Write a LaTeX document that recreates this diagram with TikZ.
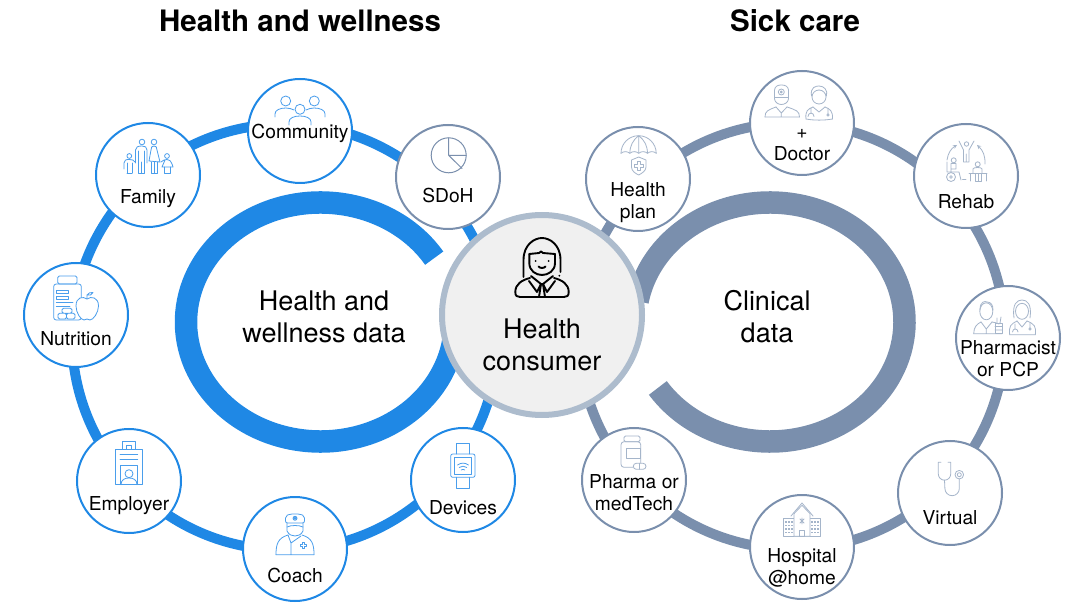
\documentclass[tikz,border=0pt]{standalone}
\usepackage{fontspec}
\setmainfont{TeX Gyre Heros}
\definecolor{wellblue}{HTML}{1F88E5}
\definecolor{sickgrey}{HTML}{7A8FAD}
\definecolor{bluelight}{HTML}{4A9EEC}
\definecolor{greylight}{HTML}{A5B5CA}
\definecolor{rimgrey}{HTML}{ADBCCD}
\definecolor{coregrey}{HTML}{F0F0F0}
\tikzset{
  bluecirc/.style={circle, draw=wellblue, fill=white, line width=2pt, minimum size=104pt, inner sep=0pt},
  greycirc/.style={circle, draw=sickgrey, fill=white, line width=2pt, minimum size=104pt, inner sep=0pt},
  lab/.style={anchor=base, align=center, inner sep=0pt, font=\fontsize{19.2}{22}\selectfont},
  biglab/.style={anchor=base, align=center, inner sep=0pt, font=\fontsize{27}{32}\selectfont},
  headlab/.style={anchor=base, inner sep=0pt, font=\fontsize{29.5}{32}\selectfont\bfseries},
  iconblue/.style={color=bluelight, line width=0.8pt, line join=round, line cap=round},
  icongrey/.style={color=greylight, line width=0.8pt, line join=round, line cap=round}
}
\begin{document}
\begin{tikzpicture}[x=1pt, y=1pt]
    \useasboundingbox (0,0) rectangle (1076,603);

    % rings
    \coordinate (ringleft) at (285,266);
    \coordinate (ringright) at (792,267);
    \coordinate (dataleft) at (320.5,281);
    \coordinate (dataright) at (770,281);
    \draw[wellblue, line width=10pt] (ringleft) circle (213);
    \draw[sickgrey, line width=10pt] (ringright) circle (213);
    \draw[wellblue, line width=22.5pt] (dataleft) ++(32.3:134.5 and 119.5) arc (32.3:355:134.5 and 119.5);
    \draw[sickgrey, line width=22.5pt] (dataright) ++(213.5:134.5 and 119.5) arc (213.5:530:134.5 and 119.5);

    % centre
    \node[circle, draw=rimgrey, fill=coregrey, line width=6pt, minimum size=200pt, inner sep=0pt] (consumer) at (542,288) {};

    % circles
    \node[bluecirc] (community) at (300,472) {};
    \node[bluecirc] (family) at (148,428) {};
    \node[bluecirc] (nutrition) at (76,288) {};
    \node[greycirc] (sdoh) at (448,426) {};
    \node[bluecirc] (employer) at (129,122) {};
    \node[bluecirc] (coach) at (295,54) {};
    \node[bluecirc] (devices) at (463,123) {};
    \node[greycirc] (healthplan) at (638,424) {};
    \node[greycirc] (doctor) at (802,480) {};
    \node[greycirc] (rehab) at (966,427) {};
    \node[greycirc] (pharmacist) at (1008,265) {};
    \node[greycirc] (virtual) at (950,110) {};
    \node[greycirc] (hospital) at (802,56) {};
    \node[greycirc] (pharma) at (634,123) {};

    % texts
    \node[headlab] (headleft) at (300,571) {Health and wellness};
    \node[headlab] (headright) at (795,571) {Sick care};
    \node[biglab] (datalabelleft) at (324,260.3) {Health and\\wellness data};
    \node[biglab] (datalabelright) at (767,260.3) {Clinical\\data};
    \node[biglab] (consumerlab) at (542,232.5) {Health\\consumer};
    \node[lab] (communitylab) at (300,464) {Community};
    \node[lab] (familylab) at (148,399.3) {Family};
    \node[lab] (nutritionlab) at (76,257) {Nutrition};
    \node[lab] (sdohlab) at (448,400.3) {SDoH};
    \node[lab] (employerlab) at (129,93) {Employer};
    \node[lab] (coachlab) at (295,21) {Coach};
    \node[lab] (deviceslab) at (463,89) {Devices};
    \node[lab] (healthplanlab) at (638,384) {Health\\plan};
    \node[lab] (doctorlab) at (802,442) {+\\Doctor};
    \node[lab] (rehablab) at (966,394.3) {Rehab};
    \node[lab] (pharmacistlab) at (1008,226) {Pharmacist\\or PCP};
    \node[lab] (virtuallab) at (950,79) {Virtual};
    \node[lab] (hospitallab) at (802,19) {Hospital\\@home};
    \node[lab] (pharmalab) at (634,92.3) {Pharma or\\medTech};

    % community
    \begin{scope}[shift={(community.center)}, iconblue]
        \draw (-14.3,30) circle (5) (14.3,30) circle (5) (0,21.7) circle (5);
        \draw (-25,14) -- (-25,17) .. controls (-25,21) and (-20,23) .. (-14,23) .. controls (-11,23) and (-8,22) .. (-6,21);
        \draw (25,14) -- (25,17) .. controls (25,21) and (20,23) .. (14,23) .. controls (11,23) and (8,22) .. (6,21);
        \draw (-11,6) -- (-11,9) .. controls (-11,13) and (-6,15) .. (0,15) .. controls (6,15) and (11,13) .. (11,9) -- (11,6);
    \end{scope}

    % family
    \begin{scope}[shift={(family.center)}, iconblue]
        \draw (-6,33) circle (2.8) (6,33) circle (2.8) (-18.7,19) circle (2.4) (19,19) circle (2.4);
        \draw (-12.5,12) -- (-12.5,25) .. controls (-12.5,28) and (-10,29) .. (-6,29) .. controls (-3,29) and (-1,28) .. (-1,25) -- (-1,12);
        \draw (-9.5,2) -- (-9.5,24) (-3.5,2) -- (-3.5,24) (-6.5,2) -- (-6.5,13) (-9.5,2) -- (-3.5,2);
        \draw (1,14) -- (3,25) .. controls (3,28) and (4,29) .. (6,29) .. controls (8,29) and (9,28) .. (9,25) -- (12,13) -- cycle;
        \draw (3,13) -- (3,2) -- (9,2) -- (9,13) (6,2) -- (6,13);
        \draw (-24,6) -- (-24,12) .. controls (-24,15) and (-22,15.5) .. (-18.7,15.5) .. controls (-16,15.5) and (-14,15) .. (-13,13);
        \draw (-21,2) -- (-21,12) (-16,2) -- (-16,12) (-21,2) -- (-16,2);
        \draw (13,13) .. controls (15,15) and (17,15.5) .. (19,15.5) .. controls (21,15.5) and (23,15) .. (25,8) -- (14,8) -- (17,15);
        \draw (16,8) -- (16,2) -- (22,2) -- (22,8);
    \end{scope}

    % nutrition
    \begin{scope}[shift={(nutrition.center)}, iconblue]
        \draw[rounded corners=1.5] (-18.3,31) rectangle (1,39);
        \draw[rounded corners=2.5] (-22.3,-5) rectangle (5.3,31);
        \draw (-19.7,21.7) rectangle (-7.3,25) (-19.7,15.7) rectangle (-7.3,19);
        \draw (-19.7,12.3) -- (-3,12.3) (-19.7,8.5) -- (-6,8.5);
        \draw[rounded corners=1.5] (-14,1.7) rectangle (-4,6.7) (-18,-4) rectangle (-9.5,1.7) (-9.5,-4) rectangle (-1,1.7);
        \draw[fill=white] (11,16) .. controls (15,19) and (22.5,18) .. (22.5,9) .. controls (22.5,2) and (17,-5) .. (14,-5) .. controls (12.5,-5) and (12,-4) .. (11,-4) .. controls (10,-4) and (9.5,-5) .. (8,-5) .. controls (5,-5) and (0,2) .. (0,9) .. controls (0,18) and (7,19) .. (11,16);
        \draw (11,16) -- (11,20) .. controls (12,22) and (15,23) .. (17,22.5) .. controls (16,20) and (13,19) .. (11,20);
    \end{scope}

    % employer
    \begin{scope}[shift={(employer.center)}, iconblue]
        \draw (-14,-3.7) rectangle (13.7,32);
        \draw (-6.7,32) rectangle (6.7,40) (-3,32) rectangle (2,36);
        \draw (-9,26.7) -- (8.7,26.7) (-9,21.3) -- (8.7,21.3);
        \draw (-9,-3.7) rectangle (8.7,15.7);
        \draw (0,7.3) circle (4);
        \draw (-8,-3.7) .. controls (-8,1.5) and (-4,3) .. (0,3) .. controls (4,3) and (8,1.5) .. (8,-3.7);
    \end{scope}

    % coach
    \begin{scope}[shift={(coach.center)}, iconblue]
        \draw[rounded corners=2] (-9.5,26) -- (-9.5,33) -- (-5,35) -- (5,35) -- (9.5,33) -- (9.5,26) -- cycle;
        \draw (0,30.7) circle (2) (0,30.7) circle (0.8);
        \draw (-8,26) -- (-8,18) .. controls (-6,14) and (-3,13) .. (0,13) .. controls (3,13) and (6,14) .. (8,18) -- (8,26);
        \draw (-8,22) .. controls (-4,24) and (4,24) .. (8,22);
        \draw (-19,-5.7) .. controls (-19,5) and (-17,11) .. (-7,14) (19,-5.7) .. controls (19,5) and (17,11) .. (7,14);
        \draw (-19,-5.7) -- (19,-5.7) (-4,-5.7) -- (-4,6) -- (6,13) (-7,14) -- (-4,6);
        \draw (7,6.5) -- (9.6,6.5) -- (9.6,4.8) -- (11.3,4.8) -- (11.3,2.4) -- (9.6,2.4) -- (9.6,0.7) -- (7,0.7) -- (7,2.4) -- (5.3,2.4) -- (5.3,4.8) -- (7,4.8) -- cycle;
    \end{scope}

    % sdoh
    \begin{scope}[shift={(sdoh.center)}, iconblue, color=sickgrey, line width=1pt]
        \draw (0.7,21.7) circle (17.5);
        \draw (0.7,39.2) -- (0.7,21.7) -- (18.2,21.7) (0.7,21.7) -- (14,8.5);
    \end{scope}

    % devices
    \begin{scope}[shift={(devices.center)}, iconblue]
        \draw (-7,26) -- (-7,37) -- (6,37) -- (6,26) (-7,2.7) -- (-7,-8) -- (6,-8) -- (6,2.7);
        \draw[rounded corners=2] (-12.3,2.7) rectangle (12,26);
        \draw (-9,6) rectangle (8.7,22.7);
        \draw (-5.5,15) .. controls (-2,17.5) and (2,17.5) .. (5.5,15);
        \draw (-3.8,12.5) .. controls (-1.5,14.2) and (1.5,14.2) .. (3.8,12.5);
        \draw (-1.8,10) .. controls (-0.7,10.8) and (0.7,10.8) .. (1.8,10);
    \end{scope}

    % pharma
    \begin{scope}[shift={(pharma.center)}, icongrey]
        \draw[rounded corners=1.5] (-10,38.3) rectangle (6,44);
        \draw[rounded corners=3] (6.7,14) -- (6.7,38.3) -- (-13,38.3) -- (-13,12.7) -- (-1,12.7);
        \draw (-8,21.7) rectangle (6.7,31.7);
        \draw[rounded corners=3, fill=white] (-0.7,10.7) rectangle (12,16.7);
        \draw (5.6,10.7) -- (5.6,16.7);
    \end{scope}

    % health plan
    \begin{scope}[shift={(healthplan.center)}, icongrey]
        \draw (-17,25.7) arc (180:0:17.6);
        \draw (-17,25.7) to[bend left=40] (-8.2,25.7) to[bend left=40] (0.7,25.7) to[bend left=40] (9.5,25.7) to[bend left=40] (18.3,25.7);
        \draw (0.7,43.3) to[bend right=25] (-8.2,25.7) (0.7,43.3) -- (0.7,25.7) (0.7,43.3) to[bend left=25] (9.5,25.7);
        \draw (0.7,22) -- (8,19) -- (8,12) .. controls (8,8) and (3.5,5.5) .. (0.7,4) .. controls (-2.5,5.5) and (-6.5,8) .. (-6.5,12) -- (-6.5,19) -- cycle;
        \draw (-0.7,17.5) -- (2,17.5) -- (2,14.5) -- (5,14.5) -- (5,11.5) -- (2,11.5) -- (2,8.5) -- (-0.7,8.5) -- (-0.7,11.5) -- (-3.7,11.5) -- (-3.7,14.5) -- (-0.7,14.5) -- cycle;
    \end{scope}

    % doctor
    \begin{scope}[shift={(doctor.center)}, icongrey]
        \draw (-27.5,28) -- (-27.5,33) .. controls (-27,37) and (-24,38) .. (-20.7,38) .. controls (-17,38) and (-14,37) .. (-13.5,33) -- (-13.5,24) .. controls (-14,20) and (-18,18.5) .. (-20.7,18.5) .. controls (-23,18.5) and (-27,20) .. (-27.5,24) -- cycle;
        \draw (-20.7,31) circle (3) (-20.7,31) circle (1);
        \draw (-27.5,26) -- (-13.5,26);
        \draw (-37,6) .. controls (-37,12) and (-34,13) .. (-26,16) (-2.5,6) .. controls (-2.5,12) and (-6,13) .. (-15,16);
        \draw (-37,6) -- (-2.5,6) (-26,16) -- (-20.7,10) -- (-15,16) (-20.7,10) -- (-20.7,6);
        \draw (17,26) circle (7);
        \draw (9.5,27) .. controls (8,36) and (14,37) .. (17,37) .. controls (22,37) and (26,33) .. (24.5,27);
        \draw (4,4) .. controls (3,12) and (6,14) .. (11,16) (30.5,4) .. controls (31,12) and (28,14) .. (23,16);
        \draw (4,4) .. controls (12,2.5) and (22,2.5) .. (30.5,4) (11,16) -- (17,11) -- (23,16);
        \draw (9,15) -- (9,10) (6,6.5) .. controls (6,11) and (12,11) .. (12,6.5) (26,14) -- (26,9) (26,8) circle (1.2);
    \end{scope}

    % rehab
    \begin{scope}[shift={(rehab.center)}, icongrey, >=stealth]
        \draw (0.5,32) circle (2.2);
        \draw (-7,35) -- (-2.5,26) -- (-2.5,14) -- (3,14) -- (3,26) -- (8,35) (0.2,14) -- (0.2,22);
        \draw[->] (-19,16) to[bend left=25] (-9,31);
        \draw[->] (19,12) to[bend right=25] (11,31);
        \draw (-15,-1) circle (4.5) (-15,-1) circle (1.4);
        \draw (-12.3,15.7) circle (2.5);
        \draw (-19,14) -- (-19,4) -- (-7,4) -- (-5,-4) (-15,12.5) -- (-15,4) (-10,12.5) -- (-10,7) -- (-15,7) (-15,12.5) -- (-10,12.5);
        \draw (-3.5,-3.7) -- (0,-3.7);
        \draw (11.7,11.7) circle (2.5);
        \draw (7,3) -- (7,7) .. controls (7,9) and (16,9) .. (16,7) -- (16,3);
        \draw (3,2.3) -- (21,2.3) (4,2.3) -- (4,-5) (20,2.3) -- (20,-5) (9,2.3) -- (9,-5) -- (15,-5) -- (15,2.3) (12,2.3) -- (12,-5);
    \end{scope}

    % pharmacist
    \begin{scope}[shift={(pharmacist.center)}, icongrey]
        \draw (-21.7,26.7) ellipse (6.5 and 8.5);
        \draw (-28,28) .. controls (-28,37) and (-23,37) .. (-21,36) .. controls (-17,36) and (-15,33) .. (-15,28);
        \draw (-34.3,4.3) .. controls (-34.3,11) and (-31,14) .. (-27,16) (-9,14) .. controls (-12,15) and (-14,16) .. (-16,16);
        \draw (-34.3,4.3) -- (-6,4.3) (-27,16) -- (-21.7,9) -- (-16,16) (-21.7,9) -- (-21.7,4.3);
        \draw (-13,4.3) rectangle (-6,15);
        \draw (-13,8) -- (-6,8) (-13,11.5) -- (-6,11.5) (-11,15) -- (-11,20) (-8,15) -- (-7,21);
        \draw (14,26.7) ellipse (6.5 and 8);
        \draw (6,20) .. controls (4,34) and (9,38) .. (14,38) .. controls (19,38) and (24,34) .. (22,20);
        \draw (1.7,3.3) .. controls (0.5,12) and (3,14) .. (9,17) (27.3,3.3) .. controls (28.5,12) and (26,14) .. (19,17);
        \draw (1.7,3.3) -- (27.3,3.3) (9,17) -- (14,11) -- (19,17);
        \draw (7,14) -- (7,9) (4.5,6) .. controls (4.5,10) and (10,10) .. (10,6) (22,15) -- (22,10) (22,9) circle (1.2);
    \end{scope}

    % virtual
    \begin{scope}[shift={(virtual.center)}, icongrey]
        \draw (-9,30.7) -- (-11.7,30.7) -- (-11.7,19) arc (180:360:6.2) -- (0.7,30.7) -- (-2,30.7);
        \draw (-5.5,12.8) -- (-5.1,4.5) arc (180:360:7.2) -- (9.3,14);
        \draw (9.3,18.3) circle (4.3) (9.3,18.3) circle (2);
    \end{scope}

    % hospital
    \begin{scope}[shift={(hospital.center)}, icongrey]
        \draw (-18.3,10.7) rectangle (18.3,29);
        \draw[fill=white] (-8,10.7) -- (-8,33.3) -- (0,41.7) -- (8,33.3) -- (8,10.7) -- cycle;
        \draw (-11,31) -- (0,44) -- (11,31);
        \draw (-2.3,10.7) rectangle (2.3,17);
        \draw (-2,28) -- (2,24) (2,28) -- (-2,24) (0,29) -- (0,23);
        \foreach \x in {-16,-13,-10, 10,13,16} {
            \foreach \y in {14.5,18,21.5,25} {
                \fill (\x-0.8,\y-0.8) rectangle ++(1.6,1.6);
            }
        }
    \end{scope}

    % consumer
    \begin{scope}[shift={(consumer.center)}, color=black, line width=1.9pt, line join=round, line cap=round]
        \draw (-18.5,38) -- (-18.5,55) .. controls (-18.5,70) and (-8,77) .. (0,77) .. controls (8,77) and (18.5,70) .. (18.5,55) -- (18.5,43);
        \fill (17.3,39.3) circle (1);
        \draw (-12.7,61) -- (-12.7,52) .. controls (-12.7,44) and (-6,40) .. (0,40) .. controls (6,40) and (13,44) .. (13,52) -- (13,61);
        \draw (-12.7,61) -- (-3,62) -- (-1,63.5) -- (1,62) -- (13,61);
        \fill (-6.5,54) circle (1) (6.5,54) circle (1);
        \draw (-3.5,48.5) .. controls (-2,46.5) and (2,46.5) .. (3.5,48.5);
        \draw (-12,37) .. controls (-20,35) and (-26.7,31) .. (-26.7,23) .. controls (-26.7,19) and (-25,18) .. (-22,18) -- (22,18) .. controls (25,18) and (26.7,19) .. (26.7,23) .. controls (26.7,31) and (20,35) .. (12,37);
        \draw (-11,39) -- (-1,31) -- (-5,23) -- (-13,34) (11,39) -- (1,31) -- (5,23) -- (13,34);
        \draw (-1,31) -- (1,31) (-1,31) -- (-3,18) (1,31) -- (3,18);
    \end{scope}
\end{tikzpicture}
\end{document}
